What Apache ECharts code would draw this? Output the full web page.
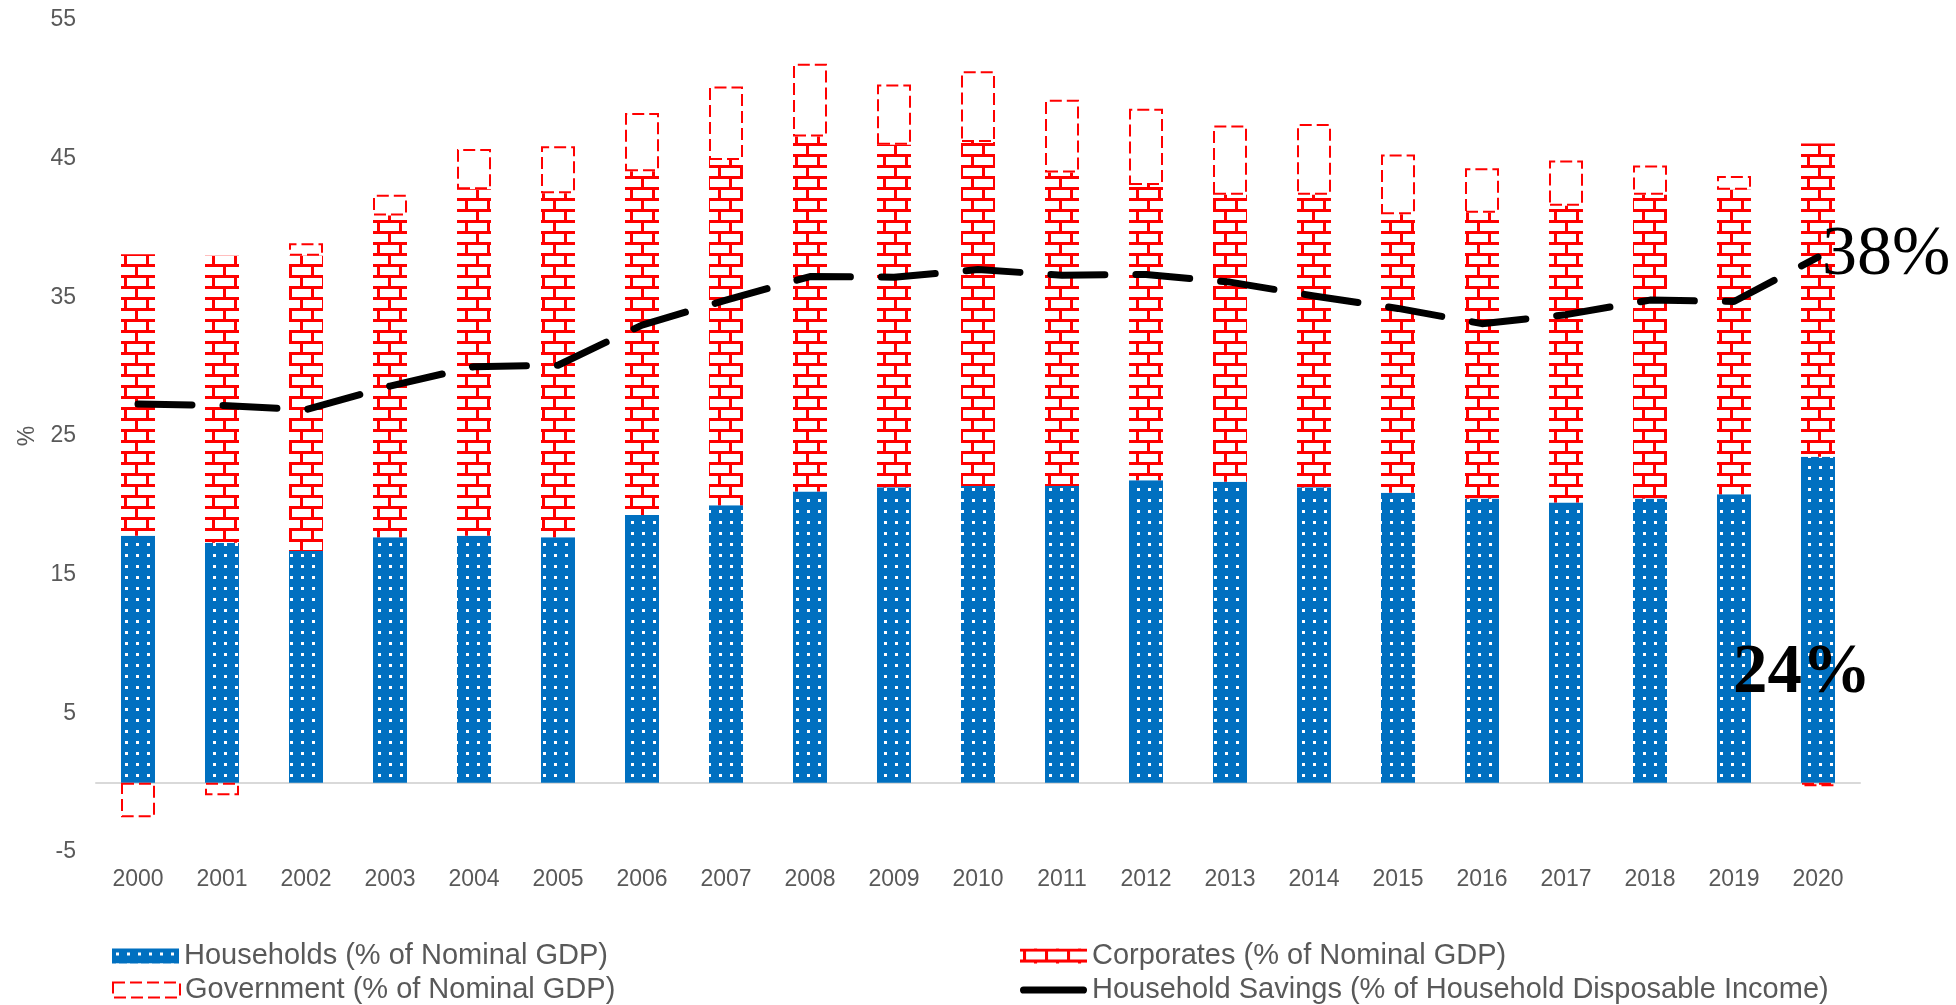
<!DOCTYPE html>
<html>
<head>
<meta charset="utf-8">
<script src="https://cdn.jsdelivr.net/npm/echarts@6/dist/echarts.min.js"></script>
<style>
  html, body { margin: 0; padding: 0; background: #ffffff; }
  #chart { width: 1956px; height: 1005px; }
</style>
</head>
<body>
<div id="chart"></div>
<script>
// ---- data ----
const years = ['2000','2001','2002','2003','2004','2005','2006','2007','2008','2009','2010',
               '2011','2012','2013','2014','2015','2016','2017','2018','2019','2020'];
const households = [17.8, 17.3, 16.7, 17.7, 17.8, 17.7, 19.3, 20.0, 21.0, 21.3, 21.4,
                    21.4, 21.8, 21.7, 21.3, 20.9, 20.5, 20.2, 20.5, 20.8, 23.5];
const corporates = [20.3, 20.7, 21.3, 23.2, 25.0, 24.8, 24.8, 24.9, 25.6, 24.7, 24.8,
                    22.6, 21.3, 20.7, 21.1, 20.1, 20.6, 21.4, 21.9, 21.95, 22.6];
const government = [-2.5, -0.9, 0.9, 1.5, 2.9, 3.4, 4.2, 5.3, 5.25, 4.35, 5.1,
                    5.25, 5.5, 5.0, 5.1, 4.3, 3.2, 3.26, 2.1, 1.0, -0.25];
const savings = [27.3, 27.2, 26.9, 28.6, 30.0, 30.1, 33.0, 34.8, 36.5, 36.45, 37.0,
                 36.6, 36.65, 36.1, 35.1, 34.2, 33.1, 33.75, 34.8, 34.7, 37.9];
const seriesNames = ['Households (% of Nominal GDP)', 'Corporates (% of Nominal GDP)',
                     'Government (% of Nominal GDP)', 'Household Savings (% of Household Disposable Income)'];
const annotations = ['38%', '24%'];

// ---- patterns ----
function dotsPattern() {
  const c = document.createElement('canvas');
  c.width = 11; c.height = 11;
  const g = c.getContext('2d');
  g.fillStyle = '#0070C0'; g.fillRect(0, 0, 11, 11);
  g.fillStyle = '#ffffff'; g.fillRect(4, 4, 3, 3);
  return c;
}
function brickPattern() {
  const c = document.createElement('canvas');
  c.width = 22; c.height = 22;
  const g = c.getContext('2d');
  g.fillStyle = '#ffffff'; g.fillRect(0, 0, 22, 22);
  g.fillStyle = '#FF0000';
  g.fillRect(0, 0, 22, 3);
  g.fillRect(0, 11, 22, 3);
  g.fillRect(3, 3, 3, 8);
  g.fillRect(14, 14, 3, 8);
  return c;
}
const dotFill = { image: dotsPattern(), repeat: 'repeat' };
const brickFill = { image: brickPattern(), repeat: 'repeat' };

const gray = '#595959';
const sans = '"Liberation Sans", Arial, sans-serif';
const govStyle = { color: 'rgba(255,255,255,0)', borderColor: '#FF0000', borderWidth: 2, borderType: [12, 5] };

function legendAt(left, top, item) {
  return {
    left: left, top: top, orient: 'horizontal', itemWidth: 67, itemHeight: 15,
    itemGap: 4, itemTextGap: 8, selectedMode: false, padding: 0,
    textStyle: { color: gray, fontSize: 29, fontFamily: sans, lineHeight: 30 },
    data: [item]
  };
}

const chart = echarts.init(document.getElementById('chart'), null, { renderer: 'canvas' });
chart.setOption({
  animation: false,
  backgroundColor: '#ffffff',
  grid: { left: 96, right: 96, top: 20, bottom: 153, containLabel: false },
  xAxis: [
    {
      type: 'category', data: years, position: 'bottom',
      axisLine: { show: false, onZero: false }, axisTick: { show: false },
      axisLabel: { color: gray, fontSize: 23, fontFamily: sans, margin: 16 },
      splitLine: { show: false }
    },
    {
      type: 'category', data: years, position: 'bottom',
      axisLine: { show: true, onZero: true, lineStyle: { color: '#D9D9D9', width: 2 } },
      axisTick: { show: false }, axisLabel: { show: false }, splitLine: { show: false }
    }
  ],
  yAxis: {
    type: 'value', min: -5, max: 55, interval: 5,
    name: '%', nameLocation: 'middle', nameGap: 57, nameRotate: 90,
    nameTextStyle: { color: gray, fontSize: 23, fontFamily: sans },
    axisLine: { show: false }, axisTick: { show: false }, splitLine: { show: false },
    axisLabel: {
      color: gray, fontSize: 23, fontFamily: sans, margin: 20,
      formatter: function (v) { return ((v + 5) % 10 === 0) ? String(v) : ''; }
    }
  },
  legend: [
    legendAt(112, 941, { name: seriesNames[0], icon: 'rect' }),
    legendAt(112, 975, { name: seriesNames[2], icon: 'rect', itemStyle: govStyle }),
    legendAt(1020, 941, { name: seriesNames[1], icon: 'rect' }),
    legendAt(1020, 975, { name: seriesNames[3],
      icon: 'path://M3.5,0 H61.5 A3.5,3.5 0 0 1 61.5,7 H3.5 A3.5,3.5 0 0 1 3.5,0 Z',
      itemStyle: { color: '#000000', borderWidth: 0 } })
  ],
  series: [
    {
      name: seriesNames[0], type: 'bar', stack: 'total', barWidth: 34,
      itemStyle: { color: dotFill }, data: households, z: 2
    },
    {
      name: seriesNames[1], type: 'bar', stack: 'total', barWidth: 34,
      itemStyle: { color: brickFill }, data: corporates, z: 2
    },
    {
      name: seriesNames[2], type: 'bar', stack: 'total', barWidth: 34,
      itemStyle: govStyle, data: government, z: 3
    },
    {
      name: seriesNames[3], type: 'line', data: savings, symbol: 'none', z: 5,
      itemStyle: { color: '#000000' },
      lineStyle: { color: '#000000', width: 7, type: [54, 31], cap: 'round', join: 'round' }
    }
  ],
  graphic: [
    { type: 'text', x: 1822, y: 256, z: 100,
      style: { text: annotations[0], font: 'normal 70px "Liberation Serif", "Times New Roman", serif',
               fill: '#000000', align: 'left', verticalAlign: 'middle' } },
    { type: 'text', x: 1733, y: 674, z: 100,
      style: { text: annotations[1], font: 'bold 69px "Liberation Serif", "Times New Roman", serif',
               fill: '#000000', align: 'left', verticalAlign: 'middle' } }
  ]
});
</script>
</body>
</html>
